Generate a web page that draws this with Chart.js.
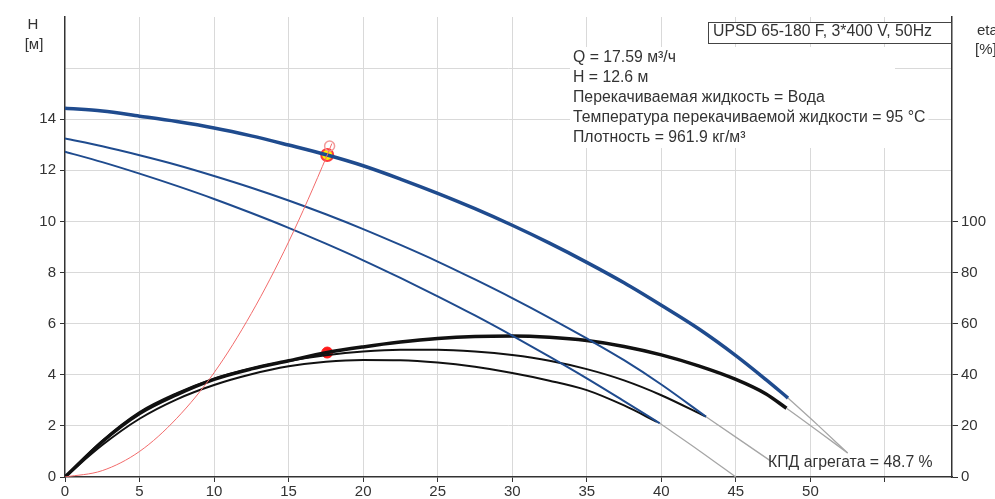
<!DOCTYPE html>
<html><head><meta charset="utf-8">
<script src="https://cdn.jsdelivr.net/npm/chart.js@4.4.0/dist/chart.umd.min.js"></script>
<style>html,body{margin:0;padding:0;background:#fff;}#wrap{width:995px;height:499px;}</style>
</head><body><div id="wrap"><canvas id="c" width="995" height="499"></canvas></div>
<script>
// ---- ticks ----
const xTicks = [0,5,10,15,20,25,30,35,40,45,50,55];
const xTickLabels = ['0','5','10','15','20','25','30','35','40','45','50',''];
const yTicks = [0,2,4,6,8,10,12,14,16,18];
const yTickLabels = ['0','2','4','6','8','10','12','14','',''];
const etaTicks = [0,20,40,60,80,100];
const etaTickLabels = ['0','20','40','60','80','100'];

// ---- head curves H [м] ----
const qHead1 = [0,2.5,5,7.5,10,12.5,15,17.59,20,22.5,25,27.5,30,32.5,35,37.5,40,42.5,45,47,48.5];
const hHead1 = [14.43,14.32,14.12,13.91,13.66,13.35,12.99,12.6,12.18,11.66,11.1,10.5,9.85,9.15,8.4,7.6,6.72,5.8,4.75,3.82,3.09];
const qHead2 = [0,2.5,5,7.5,10,12.5,15,17.5,20,22.5,25,27.5,30,32.5,35,37.5,40,43];
const hHead2 = [13.25,12.94,12.59,12.21,11.78,11.32,10.82,10.28,9.7,9.08,8.43,7.73,7.0,6.23,5.42,4.57,3.62,2.36];
const qHead3 = [0,2.5,5,7.5,10,12.5,15,17.5,20,22.5,25,27.5,30,32.5,35,37.5,39.9];
const hHead3 = [12.73,12.32,11.87,11.39,10.88,10.33,9.75,9.13,8.48,7.79,7.07,6.32,5.53,4.71,3.86,2.97,2.1];
// extrapolated (grey) parts
const qHead1Ext = [48.5,50.5,52.5];
const hHead1Ext = [3.09,2.03,0.94];
const qHead2Ext = [43,47.3];
const hHead2Ext = [2.36,0.64];
const qHead3Ext = [39.9,42.5,45];
const hHead3Ext = [2.1,1.05,0];

// ---- efficiency curves eta [%] ----
const qEta1 = [0,2.5,5,7.5,10,12.5,15,17.59,20,22.5,25,27.5,30,32.5,35,37.5,40,42.5,45,47,48.4];
const eta1 = [0,13.8,24.8,32.2,38.2,42.3,45.5,48.7,50.9,52.8,54.2,55,55.2,54.7,53.4,51.1,47.8,43.5,38.2,32.6,26.9];
const qEta2 = [0,2.5,5,7.5,10,12.5,15,17.5,20,22.5,25,27.5,30,32.5,35,37.5,40,43];
const eta2 = [0,14.2,25.4,32.8,38.5,42.5,45.4,47.6,49.1,49.8,49.8,49.1,47.7,45.5,42.2,37.8,32.0,23.6];
const qEta3 = [0,2.5,5,7.5,10,12.5,15,17.5,20,22.5,25,27.5,30,32.5,35,37.5,39.7];
const eta3 = [0,12.5,22.8,30.4,36,40.2,43.3,45.1,45.8,45.7,44.8,43.1,40.7,37.7,34,28,21.6];
const qEta1Ext = [48.4,50.5,52.5];
const eta1Ext = [26.9,18,9.4];

// ---- system curve ----
const qSys = [0,2.5,5,7.5,10,12.5,15,17.59,17.9];
const hSys = [0,0.25,1.0,2.3,4.08,6.4,9.2,12.6,13.05];

// ---- duty point ----
const dutyQ = [17.59];
const dutyH = [12.6];
const dutyEta = [48.7];

const titleText = 'UPSD 65-180 F, 3*400 V, 50Hz';
const infoLines = ['Q = 17.59 м³/ч','H = 12.6 м','Перекачиваемая жидкость = Вода','Температура перекачиваемой жидкости = 95 °C','Плотность = 961.9 кг/м³'];
const effLabel = 'КПД агрегата = 48.7 %';

const pts = (xs, ys) => xs.map((x,i)=>({x:x,y:ys[i]}));
const BLUE = '#1f4b8e', BLACK = '#111111', GREY = '#a6a6a6';
const FONT = 'Liberation Sans, Arial, sans-serif';

function line(data, color, width, axis, extra){
  return Object.assign({data:data, borderColor:color, borderWidth:width, pointRadius:0, fill:false,
    cubicInterpolationMode:'monotone', yAxisID:axis, showLine:true}, extra||{});
}

const textPlugin = {
  id:'texts',
  beforeDatasetsDraw(chart){
    const ctx = chart.ctx;
    ctx.save();
    ctx.font = '15.8px ' + FONT;
    ctx.fillStyle = '#fff';
    ctx.fillRect(570, 47, 325, 101);
    infoLines.forEach((t,i)=>{
      const w = ctx.measureText(t).width;
      ctx.fillRect(570, 48 + i*20, w + 6, 20);
    });
    ctx.fillRect(708, 22, 244, 21);
    ctx.restore();
  },
  afterDraw(chart){
    const ctx = chart.ctx;
    ctx.save();
    ctx.fillStyle = '#333';
    ctx.textBaseline = 'middle';
    ctx.font = '15.8px ' + FONT;
    ctx.textAlign = 'left';
    infoLines.forEach((t,i)=>ctx.fillText(t, 573, 58 + i*20));
    ctx.fillText(titleText, 713, 32);
    ctx.strokeStyle = '#444';
    ctx.lineWidth = 1;
    ctx.strokeRect(708.5, 22.5, 243, 21);
    ctx.fillText(effLabel, 768, 463);
    ctx.font = '15px ' + FONT;
    ctx.textAlign = 'center';
    ctx.fillText('H', 33, 25);
    ctx.fillText('[м]', 34, 45);
    ctx.textAlign = 'left';
    ctx.fillText('eta', 977, 31);
    ctx.fillText('[%]', 975, 50);
    ctx.restore();
  }
};

new Chart(document.getElementById('c'), {
  type:'scatter',
  data:{datasets:[
    line(pts(qHead1Ext,hHead1Ext), GREY, 1.3, 'y'),
    line(pts(qHead2Ext,hHead2Ext), GREY, 1.3, 'y'),
    line(pts(qHead3Ext,hHead3Ext), GREY, 1.3, 'y'),
    line(pts(qEta1Ext,eta1Ext), GREY, 1.3, 'y2'),
    line(pts(qSys,hSys), '#f26b6b', 1, 'y'),
    line(pts(qHead3,hHead3), BLUE, 2, 'y'),
    line(pts(qHead2,hHead2), BLUE, 2, 'y'),
    line(pts(qHead1,hHead1), BLUE, 3.5, 'y'),
    line(pts(qEta3,eta3), BLACK, 2, 'y2'),
    line(pts(qEta2,eta2), BLACK, 2, 'y2'),
    line(pts(qEta1,eta1), BLACK, 3.5, 'y2'),
    {data:[{x:17.75,y:12.95}], yAxisID:'y', pointRadius:5, pointBackgroundColor:'rgba(0,0,0,0)', pointBorderColor:'#f29a9a', pointBorderWidth:1.5, showLine:false},
    {data:pts(dutyQ,dutyH), yAxisID:'y', pointRadius:6, pointBackgroundColor:'#ffee00', pointBorderColor:'#ff3b3b', pointBorderWidth:2, showLine:false},
    {data:pts(dutyQ,dutyEta), yAxisID:'y2', pointRadius:5.5, pointBackgroundColor:'#ff1a1a', pointBorderColor:'#ff1a1a', pointBorderWidth:1, showLine:false}
  ]},
  options:{
    responsive:false, animation:false, devicePixelRatio:1,
    layout:{padding:{top:17,left:0,right:0,bottom:0}},
    plugins:{legend:{display:false}, tooltip:{enabled:false}, title:{display:false}},
    scales:{
      x:{type:'linear', position:'bottom', min:0, max:59.5,
        afterBuildTicks:s=>{s.ticks = xTicks.map(v=>({value:v}));},
        afterFit:s=>{s.height = 22;},
        ticks:{callback:(v,i)=>xTickLabels[i], color:'#333', font:{family:FONT,size:15}, padding:1, maxRotation:0, autoSkip:false},
        grid:{color:c=>(c.tick && c.tick.value===0)?'rgba(0,0,0,0)':'#d9d9d9', lineWidth:1, tickLength:5, tickColor:'#333'},
        border:{color:'#333', width:1.5}
      },
      y:{type:'linear', position:'left', min:0, max:18,
        afterBuildTicks:s=>{s.ticks = yTicks.map(v=>({value:v}));},
        afterFit:s=>{s.width = 65;},
        ticks:{callback:(v,i)=>yTickLabels[i], color:'#333', font:{family:FONT,size:15}, padding:4, autoSkip:false},
        grid:{color:c=>(c.tick && (c.tick.value===0||c.tick.value===18))?'rgba(0,0,0,0)':'#d9d9d9', lineWidth:1, tickLength:5,
          tickColor:c=>(c.tick && c.tick.value<=14)?'#333':'rgba(0,0,0,0)'},
        border:{color:'#333', width:1.5}
      },
      y2:{type:'linear', position:'right', min:0, max:180,
        afterBuildTicks:s=>{s.ticks = etaTicks.map(v=>({value:v}));},
        afterFit:s=>{s.width = 43;},
        ticks:{callback:(v,i)=>etaTickLabels[i], color:'#333', font:{family:FONT,size:15}, padding:3, autoSkip:false},
        grid:{drawOnChartArea:false, tickLength:6, tickColor:'#333'},
        border:{color:'#333', width:1.5}
      }
    }
  },
  plugins:[textPlugin]
});
</script>
</body></html>
